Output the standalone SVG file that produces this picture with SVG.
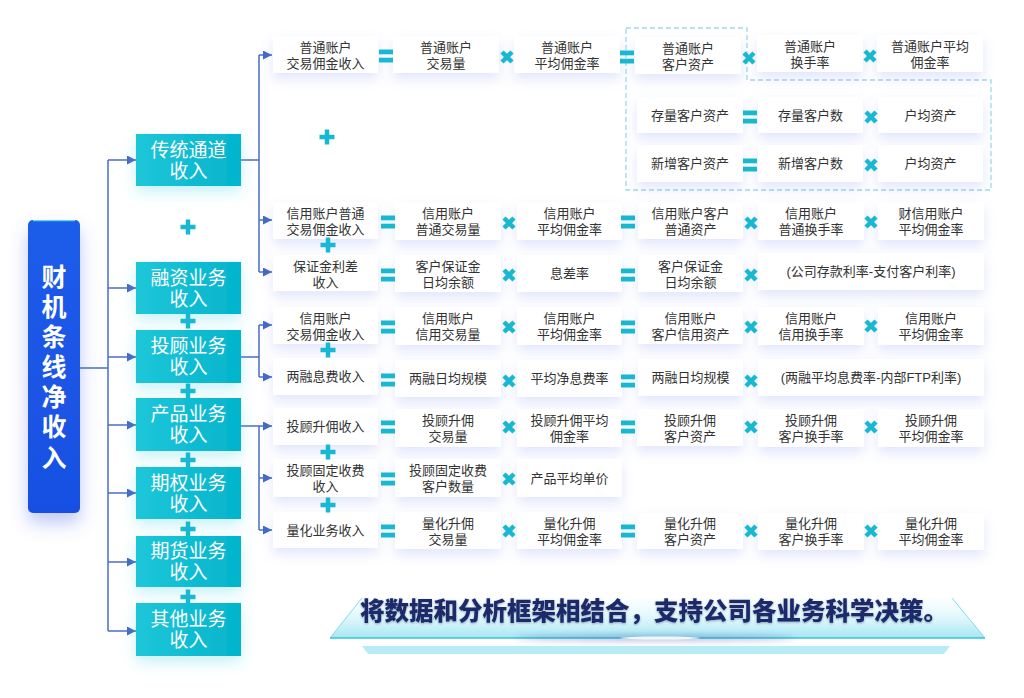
<svg xmlns="http://www.w3.org/2000/svg" xmlns:xlink="http://www.w3.org/1999/xlink" width="1024" height="698" viewBox="0 0 1024 698">
<defs>
<style>
.card{fill:#ffffff;filter:url(#shCard);}
.ct{font-family:"Liberation Sans","Noto Sans CJK SC",sans-serif;font-size:13px;fill:#333333;text-anchor:middle;}
.cat{fill:url(#gCat);filter:url(#shCat);}
.catt{font-family:"Liberation Sans","Noto Sans CJK SC",sans-serif;font-size:19px;fill:#ffffff;text-anchor:middle;}
.mt{font-family:"Liberation Sans","Noto Sans CJK SC",sans-serif;font-size:25px;font-weight:700;fill:#ffffff;text-anchor:middle;}
.ln{fill:none;stroke:#4a6ccc;stroke-width:1.5;}
.op{fill:#19b8d2;}
.opx{fill:none;stroke:#19b8d2;stroke-width:4.5;stroke-linecap:butt;}
.pl{fill:none;stroke:#19b8d2;stroke-width:4.5;}
.dash{fill:none;stroke:#9fd9ee;stroke-width:1.3;stroke-dasharray:5 3;}
.title{font-family:"Noto Sans CJK SC","Noto Sans",sans-serif;font-size:24.5px;font-weight:900;fill:#1b2c6a;text-anchor:middle;}
</style>
<linearGradient id="gCat" x1="0" y1="0" x2="1" y2="0"><stop offset="0" stop-color="#1ec6d9"/><stop offset="1" stop-color="#03b4cc"/></linearGradient>
<linearGradient id="gMain" x1="0" y1="0" x2="0" y2="1"><stop offset="0" stop-color="#1e5cea"/><stop offset="1" stop-color="#1850e2"/></linearGradient>
<linearGradient id="gPlat" x1="0" y1="0" x2="0" y2="1"><stop offset="0" stop-color="#eafbff" stop-opacity="0.2"/><stop offset="1" stop-color="#a5e6f3"/></linearGradient>
<filter id="shCard" x="-30%" y="-40%" width="160%" height="220%"><feDropShadow dx="0" dy="6" stdDeviation="6" flood-color="#7b8cf0" flood-opacity="0.22"/></filter>
<filter id="shCat" x="-30%" y="-40%" width="160%" height="200%"><feDropShadow dx="0" dy="6" stdDeviation="7" flood-color="#40d2ea" flood-opacity="0.3"/></filter>
<filter id="shMain" x="-60%" y="-20%" width="220%" height="140%"><feDropShadow dx="0" dy="10" stdDeviation="9" flood-color="#4a62f2" flood-opacity="0.35"/></filter>
<filter id="blur3" x="-20%" y="-300%" width="140%" height="700%"><feGaussianBlur stdDeviation="3"/></filter>
<filter id="tsh"><feDropShadow dx="0" dy="1" stdDeviation="1" flood-color="#0b1a4a" flood-opacity="0.35"/></filter>
<marker id="arr" viewBox="0 0 10 10" refX="10" refY="5" markerWidth="9" markerHeight="9" markerUnits="userSpaceOnUse" orient="auto"><path d="M0,0 L10,5 L0,10 z" fill="#4169c8"/></marker>
<g id="eq"><rect class="op" x="-7" y="-6.5" width="14" height="4.8"/><rect class="op" x="-7" y="1.7" width="14" height="4.8"/></g>
<g id="mul"><path class="opx" d="M-5,-5 L5,5 M5,-5 L-5,5"/></g>
<g id="plus"><path class="pl" d="M-7.5,0 H7.5 M0,-7.5 V7.5"/></g>
</defs>
<rect width="1024" height="698" fill="#ffffff"/>

<!-- connectors -->
<g id="connectors">
<path class="ln" d="M80,368 H108"/>
<path class="ln" d="M108,160 V631"/>
<path class="ln" d="M108,160 H136" marker-end="url(#arr)"/>
<path class="ln" d="M108,288 H136" marker-end="url(#arr)"/>
<path class="ln" d="M108,357 H136" marker-end="url(#arr)"/>
<path class="ln" d="M108,425 H136" marker-end="url(#arr)"/>
<path class="ln" d="M108,493 H136" marker-end="url(#arr)"/>
<path class="ln" d="M108,562 H136" marker-end="url(#arr)"/>
<path class="ln" d="M108,631 H136" marker-end="url(#arr)"/>
<path class="ln" d="M241,160 H259 M259,55 V272"/>
<path class="ln" d="M259,55 H272" marker-end="url(#arr)"/>
<path class="ln" d="M259,220 H272" marker-end="url(#arr)"/>
<path class="ln" d="M259,272 H272" marker-end="url(#arr)"/>
<path class="ln" d="M241,357 H259 M259,325 V377"/>
<path class="ln" d="M259,325 H272" marker-end="url(#arr)"/>
<path class="ln" d="M259,377 H272" marker-end="url(#arr)"/>
<path class="ln" d="M241,426 H259 M259,426 V530"/>
<path class="ln" d="M259,426 H272" marker-end="url(#arr)"/>
<path class="ln" d="M259,478 H272" marker-end="url(#arr)"/>
<path class="ln" d="M259,530 H272" marker-end="url(#arr)"/>
</g>

<!-- main node -->
<g id="main">
<rect x="28" y="220" width="52" height="293" rx="5" fill="url(#gMain)" filter="url(#shMain)"/>
<path d="M33,220.7 H75" stroke="#5fd2f5" stroke-width="1.2"/>
<text class="mt" x="54" y="286">财</text>
<text class="mt" x="54" y="316">机</text>
<text class="mt" x="54" y="346">条</text>
<text class="mt" x="54" y="376">线</text>
<text class="mt" x="54" y="406">净</text>
<text class="mt" x="54" y="436">收</text>
<text class="mt" x="54" y="467">入</text>
</g>

<!-- categories -->
<g id="cat1"><rect class="cat" x="136" y="134" width="105" height="52"/><text class="catt" x="188.5" y="157">传统通道</text><text class="catt" x="188.5" y="178">收入</text></g>
<g id="cat2"><rect class="cat" x="136" y="262" width="105" height="52"/><text class="catt" x="188.5" y="285">融资业务</text><text class="catt" x="188.5" y="306">收入</text></g>
<g id="cat3"><rect class="cat" x="136" y="330" width="105" height="53"/><text class="catt" x="188.5" y="353">投顾业务</text><text class="catt" x="188.5" y="374">收入</text></g>
<g id="cat4"><rect class="cat" x="136" y="398" width="105" height="53"/><text class="catt" x="188.5" y="421">产品业务</text><text class="catt" x="188.5" y="442">收入</text></g>
<g id="cat5"><rect class="cat" x="136" y="467" width="105" height="52"/><text class="catt" x="188.5" y="490">期权业务</text><text class="catt" x="188.5" y="511">收入</text></g>
<g id="cat6"><rect class="cat" x="136" y="536" width="105" height="51"/><text class="catt" x="188.5" y="558">期货业务</text><text class="catt" x="188.5" y="579">收入</text></g>
<g id="cat7"><rect class="cat" x="136" y="603" width="105" height="53"/><text class="catt" x="188.5" y="626">其他业务</text><text class="catt" x="188.5" y="647">收入</text></g>

<g id="catplus">
<use href="#plus" x="188" y="227"/>
<use href="#plus" x="188" y="321"/>
<use href="#plus" x="188" y="391"/>
<use href="#plus" x="188" y="460"/>
<use href="#plus" x="188" y="529"/>
<use href="#plus" x="188" y="597"/>
</g>

<!-- dashed group -->
<path class="dash" d="M626,28 H747 V80 H991 V190 H626 Z"/>

<!-- row 1 -->
<g id="r1c1"><rect class="card" x="273" y="36" width="105" height="37"/><text class="ct" x="325.5" y="52">普通账户</text><text class="ct" x="325.5" y="68">交易佣金收入</text></g>
<g id="r1c2"><rect class="card" x="393" y="36" width="106" height="37"/><text class="ct" x="446" y="52">普通账户</text><text class="ct" x="446" y="68">交易量</text></g>
<g id="r1c3"><rect class="card" x="514" y="36" width="106" height="37"/><text class="ct" x="567" y="52">普通账户</text><text class="ct" x="567" y="68">平均佣金率</text></g>
<g id="r1c4"><rect class="card" x="635" y="37" width="106" height="37"/><text class="ct" x="688" y="53">普通账户</text><text class="ct" x="688" y="69">客户资产</text></g>
<g id="r1c5"><rect class="card" x="757" y="35" width="106" height="37"/><text class="ct" x="810" y="51">普通账户</text><text class="ct" x="810" y="67">换手率</text></g>
<g id="r1c6"><rect class="card" x="877" y="35" width="106" height="37"/><text class="ct" x="930" y="51">普通账户平均</text><text class="ct" x="930" y="67">佣金率</text></g>

<!-- rows A, B -->
<g id="rAc4"><rect class="card" x="637" y="97" width="106" height="36"/><text class="ct" x="690" y="120">存量客户资产</text></g>
<g id="rAc5"><rect class="card" x="758" y="97" width="105" height="36"/><text class="ct" x="810.5" y="120">存量客户数</text></g>
<g id="rAc6"><rect class="card" x="878" y="97" width="105" height="36"/><text class="ct" x="930.5" y="120">户均资产</text></g>
<g id="rBc4"><rect class="card" x="637" y="145" width="106" height="37"/><text class="ct" x="690" y="168">新增客户资产</text></g>
<g id="rBc5"><rect class="card" x="758" y="145" width="105" height="37"/><text class="ct" x="810.5" y="168">新增客户数</text></g>
<g id="rBc6"><rect class="card" x="878" y="145" width="105" height="37"/><text class="ct" x="930.5" y="168">户均资产</text></g>

<!-- row 3 -->
<g id="r3c1"><rect class="card" x="273" y="202" width="105" height="37"/><text class="ct" x="325.5" y="218">信用账户普通</text><text class="ct" x="325.5" y="234">交易佣金收入</text></g>
<g id="r3c2"><rect class="card" x="395" y="202" width="106" height="38"/><text class="ct" x="448" y="218">信用账户</text><text class="ct" x="448" y="234">普通交易量</text></g>
<g id="r3c3"><rect class="card" x="517" y="202" width="105" height="38"/><text class="ct" x="569.5" y="218">信用账户</text><text class="ct" x="569.5" y="234">平均佣金率</text></g>
<g id="r3c4"><rect class="card" x="638" y="202" width="105" height="37"/><text class="ct" x="690.5" y="218">信用账户客户</text><text class="ct" x="690.5" y="234">普通资产</text></g>
<g id="r3c5"><rect class="card" x="758" y="202" width="106" height="38"/><text class="ct" x="811" y="218">信用账户</text><text class="ct" x="811" y="234">普通换手率</text></g>
<g id="r3c6"><rect class="card" x="878" y="202" width="106" height="38"/><text class="ct" x="931" y="218">财信用账户</text><text class="ct" x="931" y="234">平均佣金率</text></g>

<!-- row 4 -->
<g id="r4c1"><rect class="card" x="273" y="255" width="105" height="36"/><text class="ct" x="325.5" y="271">保证金利差</text><text class="ct" x="325.5" y="287">收入</text></g>
<g id="r4c2"><rect class="card" x="395" y="255" width="106" height="37"/><text class="ct" x="448" y="271">客户保证金</text><text class="ct" x="448" y="287">日均余额</text></g>
<g id="r4c3"><rect class="card" x="517" y="255" width="105" height="37"/><text class="ct" x="569.5" y="278">息差率</text></g>
<g id="r4c4"><rect class="card" x="638" y="255" width="105" height="37"/><text class="ct" x="690.5" y="271">客户保证金</text><text class="ct" x="690.5" y="287">日均余额</text></g>
<g id="r4c5"><rect class="card" x="758" y="253" width="226" height="37"/><text class="ct" x="871" y="276">(公司存款利率-支付客户利率)</text></g>

<!-- row 5 -->
<g id="r5c1"><rect class="card" x="273" y="307" width="105" height="37"/><text class="ct" x="325.5" y="323">信用账户</text><text class="ct" x="325.5" y="339">交易佣金收入</text></g>
<g id="r5c2"><rect class="card" x="395" y="307" width="106" height="38"/><text class="ct" x="448" y="323">信用账户</text><text class="ct" x="448" y="339">信用交易量</text></g>
<g id="r5c3"><rect class="card" x="517" y="307" width="105" height="38"/><text class="ct" x="569.5" y="323">信用账户</text><text class="ct" x="569.5" y="339">平均佣金率</text></g>
<g id="r5c4"><rect class="card" x="638" y="307" width="105" height="37"/><text class="ct" x="690.5" y="323">信用账户</text><text class="ct" x="690.5" y="339">客户信用资产</text></g>
<g id="r5c5"><rect class="card" x="758" y="307" width="106" height="38"/><text class="ct" x="811" y="323">信用账户</text><text class="ct" x="811" y="339">信用换手率</text></g>
<g id="r5c6"><rect class="card" x="878" y="307" width="106" height="38"/><text class="ct" x="931" y="323">信用账户</text><text class="ct" x="931" y="339">平均佣金率</text></g>

<!-- row 6 -->
<g id="r6c1"><rect class="card" x="273" y="358" width="105" height="37"/><text class="ct" x="325.5" y="381">两融息费收入</text></g>
<g id="r6c2"><rect class="card" x="395" y="360" width="106" height="37"/><text class="ct" x="448" y="383">两融日均规模</text></g>
<g id="r6c3"><rect class="card" x="517" y="360" width="105" height="37"/><text class="ct" x="569.5" y="383">平均净息费率</text></g>
<g id="r6c4"><rect class="card" x="638" y="359" width="105" height="37"/><text class="ct" x="690.5" y="382">两融日均规模</text></g>
<g id="r6c5"><rect class="card" x="758" y="359" width="226" height="37"/><text class="ct" x="871" y="382">(两融平均息费率-内部FTP利率)</text></g>

<!-- row 7 -->
<g id="r7c1"><rect class="card" x="273" y="408" width="105" height="37"/><text class="ct" x="325.5" y="431">投顾升佣收入</text></g>
<g id="r7c2"><rect class="card" x="395" y="409" width="106" height="38"/><text class="ct" x="448" y="425">投顾升佣</text><text class="ct" x="448" y="441">交易量</text></g>
<g id="r7c3"><rect class="card" x="517" y="409" width="105" height="38"/><text class="ct" x="569.5" y="425">投顾升佣平均</text><text class="ct" x="569.5" y="441">佣金率</text></g>
<g id="r7c4"><rect class="card" x="637" y="409" width="106" height="37"/><text class="ct" x="690" y="425">投顾升佣</text><text class="ct" x="690" y="441">客户资产</text></g>
<g id="r7c5"><rect class="card" x="758" y="409" width="106" height="38"/><text class="ct" x="811" y="425">投顾升佣</text><text class="ct" x="811" y="441">客户换手率</text></g>
<g id="r7c6"><rect class="card" x="878" y="409" width="106" height="38"/><text class="ct" x="931" y="425">投顾升佣</text><text class="ct" x="931" y="441">平均佣金率</text></g>

<!-- row 8 -->
<g id="r8c1"><rect class="card" x="273" y="459" width="105" height="38"/><text class="ct" x="325.5" y="475">投顾固定收费</text><text class="ct" x="325.5" y="491">收入</text></g>
<g id="r8c2"><rect class="card" x="395" y="459" width="106" height="38"/><text class="ct" x="448" y="475">投顾固定收费</text><text class="ct" x="448" y="491">客户数量</text></g>
<g id="r8c3"><rect class="card" x="517" y="459" width="105" height="38"/><text class="ct" x="569.5" y="483">产品平均单价</text></g>

<!-- row 9 -->
<g id="r9c1"><rect class="card" x="273" y="512" width="105" height="36"/><text class="ct" x="325.5" y="535">量化业务收入</text></g>
<g id="r9c2"><rect class="card" x="395" y="512" width="106" height="37"/><text class="ct" x="448" y="528">量化升佣</text><text class="ct" x="448" y="544">交易量</text></g>
<g id="r9c3"><rect class="card" x="517" y="512" width="105" height="37"/><text class="ct" x="569.5" y="528">量化升佣</text><text class="ct" x="569.5" y="544">平均佣金率</text></g>
<g id="r9c4"><rect class="card" x="637" y="513" width="106" height="36"/><text class="ct" x="690" y="528">量化升佣</text><text class="ct" x="690" y="544">客户资产</text></g>
<g id="r9c5"><rect class="card" x="758" y="513" width="106" height="37"/><text class="ct" x="811" y="528">量化升佣</text><text class="ct" x="811" y="544">客户换手率</text></g>
<g id="r9c6"><rect class="card" x="878" y="513" width="106" height="37"/><text class="ct" x="931" y="528">量化升佣</text><text class="ct" x="931" y="544">平均佣金率</text></g>

<!-- operators -->
<g id="operators">
<use href="#eq" x="386" y="56"/><use href="#mul" x="507" y="57"/><use href="#eq" x="627" y="57"/><use href="#mul" x="749" y="58"/><use href="#mul" x="870" y="56"/>
<use href="#eq" x="750" y="117"/><use href="#mul" x="871" y="117"/>
<use href="#eq" x="750" y="165"/><use href="#mul" x="871" y="165"/>
<use href="#eq" x="388" y="222"/><use href="#mul" x="509" y="223"/><use href="#eq" x="628" y="222"/><use href="#mul" x="751" y="223"/><use href="#mul" x="871" y="222"/>
<use href="#eq" x="388" y="275"/><use href="#mul" x="509" y="275"/><use href="#eq" x="628" y="275"/><use href="#mul" x="751" y="275"/>
<use href="#eq" x="388" y="327"/><use href="#mul" x="509" y="327"/><use href="#eq" x="628" y="327"/><use href="#mul" x="751" y="327"/><use href="#mul" x="871" y="326"/>
<use href="#eq" x="388" y="380"/><use href="#mul" x="509" y="381"/><use href="#eq" x="628" y="381"/><use href="#mul" x="751" y="381"/>
<use href="#eq" x="388" y="427"/><use href="#mul" x="509" y="427"/><use href="#eq" x="628" y="427"/><use href="#mul" x="751" y="427"/><use href="#mul" x="871" y="427"/>
<use href="#eq" x="388" y="479"/><use href="#mul" x="509" y="479"/>
<use href="#eq" x="388" y="531"/><use href="#mul" x="509" y="531"/><use href="#eq" x="628" y="531"/><use href="#mul" x="751" y="531"/><use href="#mul" x="871" y="531"/>
<use href="#plus" x="327" y="137"/>
<use href="#plus" x="328" y="245"/>
<use href="#plus" x="328" y="350"/>
<use href="#plus" x="328" y="452"/>
<use href="#plus" x="328" y="505"/>
</g>

<!-- bottom banner -->
<g id="banner">
<polygon points="330,638 362,598 952,598 985,638" fill="url(#gPlat)"/>
<path d="M330,638 L362,598 M985,638 L952,598" stroke="#7fdcef" stroke-width="1" fill="none"/>
<path d="M330,638 H985" stroke="#33c4de" stroke-width="1.6"/>
<ellipse cx="655" cy="638" rx="140" ry="2.5" fill="#3a56a8" opacity="0.45" filter="url(#blur3)"/>
<ellipse cx="660" cy="638" rx="40" ry="1.5" fill="#ffffff" opacity="0.9"/>
<polygon points="362,646 950,646 944,654 368,654" fill="#b7ecf6"/>
<text class="title" x="654" y="620" filter="url(#tsh)">将数据和分析框架相结合，支持公司各业务科学决策。</text>
</g>
</svg>
